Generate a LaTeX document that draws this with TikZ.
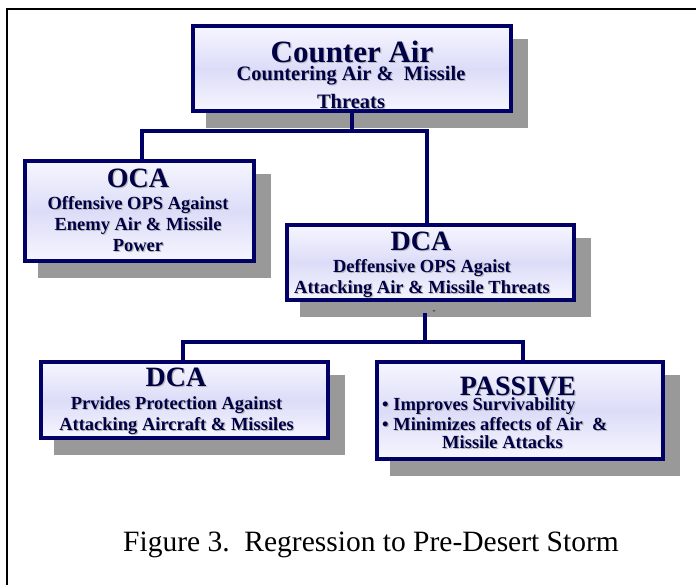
\documentclass[tikz,border=0pt]{standalone}
\usepackage{fontspec}
\setmainfont{Liberation Serif}
\usepackage{xcolor}
\usepackage{tikz}
\usetikzlibrary{shadows}
\definecolor{navyline}{RGB}{0,0,102}
\definecolor{navytext}{RGB}{0,0,70}
\definecolor{shadowgray}{RGB}{153,153,153}
\definecolor{boxlight}{RGB}{246,246,255}
\definecolor{boxmid}{RGB}{220,220,248}
\newcommand\shadowed[1]{\rlap{\kern1.2pt\raisebox{-1.2pt}{\color{shadowgray!70}#1}}#1}
\tikzset{box/.style={rectangle,draw=navyline,line width=4pt,inner sep=0pt,
    top color=boxlight,bottom color=boxlight,middle color=boxmid,
    drop shadow={shadow xshift=15pt,shadow yshift=-15pt,opacity=1,fill=shadowgray,draw=shadowgray,line width=4pt}},
  title/.style={font=\bfseries\fontsize{28}{30}\selectfont,text=navytext,inner sep=0pt,anchor=base},
  sub/.style={font=\bfseries\fontsize{18.5}{20.5}\selectfont,text=navytext,inner sep=0pt,anchor=base,align=center},
  link/.style={draw=navyline,line width=4pt}}

\begin{document}
\begin{tikzpicture}[x=1pt,y=-1pt]
        \useasboundingbox (0,0) rectangle (696,584);
        \draw[line width=2pt] (7,600) -- (7,9) -- (710,9);

        \node[box,minimum width=318pt,minimum height=85pt] (ca) at (352,68.5) {};
        \node[box,minimum width=229pt,minimum height=100pt] (oca) at (139.5,211) {};
        \node[box,minimum width=287pt,minimum height=75pt] (dcam) at (430.5,262.5) {};
        \node[box,minimum width=287pt,minimum height=76pt] (dcab) at (184.5,400) {};
        \node[box,minimum width=286pt,minimum height=97pt] (pas) at (520,410.5) {};

        \coordinate (top joint) at (353,131);
        \coordinate (mid stub) at (425,313);
        \coordinate (low joint) at (425,342);

        \draw[link] (ca.south) -- (ca.south |- top joint);
        \draw[link] ([xshift=2.5pt]oca.north) |- (top joint) -| ([xshift=-3.5pt]dcam.north);
        \draw[link] (mid stub) -- (low joint);
        \draw[link] ([xshift=-1.5pt]dcab.north) |- (low joint) -| ([xshift=3pt]pas.north);
        \node[font=\fontsize{9}{9}\selectfont,inner sep=0pt] (tick) at (434,312) {-};

        % base anchor sits on the last line
        \node[title,font=\bfseries\fontsize{31}{33}\selectfont] (ca title) at (352,62) {\shadowed{Counter Air}};
        \node[sub,font=\bfseries\fontsize{20.5}{28}\selectfont] (ca text) at (351,108) {\shadowed{Countering Air \&\ \ Missile}\\\shadowed{Threats}};

        \node[title] (oca title) at (138,187) {\shadowed{OCA}};
        \node[sub,font=\bfseries\fontsize{18.5}{21}\selectfont] (oca text) at (138,251) {\shadowed{Offensive OPS Against}\\\shadowed{Enemy Air \& Missile}\\\shadowed{Power}};

        \node[title] (dcam title) at (421,250) {\shadowed{DCA}};
        \node[sub] (dcam text) at (422,293) {\shadowed{Deffensive OPS Agaist}\\\shadowed{Attacking Air \& Missile Threats}};

        \node[title] (dcab title) at (176,386) {\shadowed{DCA}};
        \node[sub] (dcab text) at (176.5,430) {\shadowed{Prvides Protection Against}\\\shadowed{Attacking Aircraft \& Missiles}};

        \node[title] (pas title) at (518,395) {\shadowed{PASSIVE}};
        \node[sub,anchor=base west,align=left,font=\bfseries\fontsize{18.5}{18}\selectfont] (pas text) at (382,448)
            {\shadowed{\textbullet\ Improves Survivability}\\\shadowed{\textbullet\ Minimizes affects of Air\ \ \&}\\\hspace*{60pt}\shadowed{Missile Attacks}};

        \node[anchor=base,inner sep=0pt,font=\fontsize{29.5}{32}\selectfont] (caption) at (371,551)
            {Figure 3.\ \ Regression to Pre-Desert Storm};
\end{tikzpicture}
\end{document}
